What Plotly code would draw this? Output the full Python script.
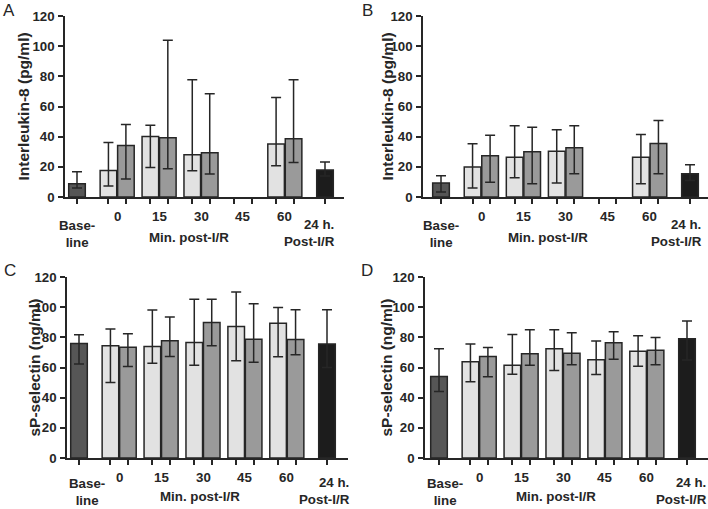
import plotly.graph_objects as go

# ---- data (value, upper whisker, lower whisker) ----
groups = ["0", "15", "30", "45", "60"]

# Panel A: Interleukin-8 (pg/ml)
A_base = [8.8, 16.8, 6.0]
A_light = [17.6, 40.1, 28.0, None, 35.1]
A_light_hi = [36.2, 47.6, 77.7, None, 66.0]
A_light_lo = [7.3, 19.6, 17.4, None, 20.7]
A_dark = [34.2, 39.3, 29.3, None, 38.6]
A_dark_hi = [48.1, 103.9, 68.4, None, 77.7]
A_dark_lo = [11.9, 18.8, 15.2, None, 22.9]
A_24h = [17.9, 23.2, 14.0]

# Panel B: Interleukin-8 (pg/ml)
B_base = [9.3, 14.1, 3.3]
B_light = [19.9, 26.3, 30.4, None, 26.3]
B_light_hi = [35.3, 47.2, 44.6, None, 41.5]
B_light_lo = [6.0, 12.8, 9.3, None, 8.8]
B_dark = [27.4, 30.0, 32.6, None, 35.5]
B_dark_hi = [41.0, 46.3, 47.2, None, 50.7]
B_dark_lo = [9.7, 8.8, 15.4, None, 15.4]
B_24h = [15.4, 21.4, 11.0]

# Panel C: sP-selectin (ng/ml)
C_base = [75.9, 81.7, 62.4]
C_light = [74.4, 73.9, 76.6, 87.2, 89.4]
C_light_hi = [85.5, 98.1, 105.2, 110.0, 99.8]
C_light_lo = [50.0, 62.9, 61.5, 64.4, 67.1]
C_dark = [73.5, 77.7, 89.9, 78.8, 78.6]
C_dark_hi = [82.4, 93.4, 105.2, 102.3, 98.3]
C_dark_lo = [60.7, 67.3, 74.4, 63.5, 68.4]
C_24h = [75.5, 98.3, 60.0]

# Panel D: sP-selectin (ng/ml)
D_base = [54.0, 72.4, 44.1]
D_light = [63.8, 61.5, 72.4, 65.1, 70.8]
D_light_hi = [75.5, 81.9, 85.0, 77.5, 81.0]
D_light_lo = [50.5, 55.6, 58.0, 55.3, 60.9]
D_dark = [67.3, 69.1, 69.5, 76.4, 71.5]
D_dark_hi = [73.3, 85.0, 83.0, 83.7, 79.9]
D_dark_lo = [53.8, 61.5, 61.8, 65.5, 61.8]
D_24h = [79.0, 90.8, 65.0]

y_ticks = [0, 20, 40, 60, 80, 100, 120]

# ---- layout geometry ----
X_BASE = 0.0
GROUP_START = 2.3
GROUP_STEP = 2.4
X_24H = 14.2
BAR_W = 0.95
group_x = [GROUP_START + GROUP_STEP * i for i in range(len(groups))]
light_x = [g - 0.5 for g in group_x]
dark_x = [g + 0.5 for g in group_x]
all_ticks = [X_BASE] + [v for g in group_x for v in (g - 0.5, g + 0.5)] + [X_24H]

W, H = 708, 509
C_BASE = "#565656"
C_LIGHT = "#e2e2e2"
C_DARK = "#9a9a9a"
C_24H = "#1c1c1c"
C_LINE = "#262626"
FONT = "Liberation Sans, Arial, sans-serif"

# pixel geometry per panel: axis x, baseline-bar x, 24h-bar x, right end, y of 0, y of 120
panels = [
    dict(name="A", base=A_base, light=A_light, lhi=A_light_hi, llo=A_light_lo,
         dark=A_dark, dhi=A_dark_hi, dlo=A_dark_lo, h24=A_24h,
         geo=(65, 77, 325, 344, 197, 16), base_dx=0, min_dx=112, h24_dx=260, lab_dy=0,
         ytitle="Interleukin-8 (pg/ml)", tx=23, letter_x=9, letter_y=11),
    dict(name="B", base=B_base, light=B_light, lhi=B_light_hi, llo=B_light_lo,
         dark=B_dark, dhi=B_dark_hi, dlo=B_dark_lo, h24=B_24h,
         geo=(423, 441, 690, 708, 197, 16), base_dx=0, min_dx=107, h24_dx=263, lab_dy=0,
         ytitle="Interleukin-8 (pg/ml)", tx=387, letter_x=367, letter_y=11),
    dict(name="C", base=C_base, light=C_light, lhi=C_light_hi, llo=C_light_lo,
         dark=C_dark, dhi=C_dark_hi, dlo=C_dark_lo, h24=C_24h,
         geo=(67, 79, 327, 348, 458, 277), base_dx=8, min_dx=121, h24_dx=273, lab_dy=3,
         ytitle="sP-selectin (ng/ml)", tx=34, letter_x=10, letter_y=270),
    dict(name="D", base=D_base, light=D_light, lhi=D_light_hi, llo=D_light_lo,
         dark=D_dark, dhi=D_dark_hi, dlo=D_dark_lo, h24=D_24h,
         geo=(425, 439, 687, 708, 458, 277), base_dx=6, min_dx=117, h24_dx=270, lab_dy=3,
         ytitle="sP-selectin (ng/ml)", tx=386, letter_x=367, letter_y=270),
]

fig = go.Figure()
annotations = []
layout_axes = {}


def err(vals, hi, lo):
    up = [None if v is None else h - v for v, h in zip(vals, hi)]
    dn = [None if v is None else v - l for v, l in zip(vals, lo)]
    return dict(type="data", symmetric=False, array=up, arrayminus=dn,
                color=C_LINE, thickness=1.5, width=5)


def b(t):
    return "<b>" + t.replace("<br>", "</b><br><b>") + "</b>"


for i, p in enumerate(panels, start=1):
    xa = "x" if i == 1 else f"x{i}"
    ya = "y" if i == 1 else f"y{i}"
    ax_x, base_px, h24_px, end_px, y0_px, y120_px = p["geo"]
    s = (h24_px - base_px) / (X_24H - X_BASE)
    xrange = [X_BASE - (base_px - ax_x) / s, X_BASE + (end_px - base_px) / s]
    xdom = [ax_x / W, min(end_px / W, 1.0)]
    ydom_v = [1 - y0_px / H, 1 - y120_px / H]

    common = dict(xaxis=xa, yaxis=ya, width=BAR_W, showlegend=False,
                  marker_line=dict(color=C_LINE, width=1.5))
    fig.add_trace(go.Bar(x=[X_BASE], y=[p["base"][0]], marker_color=C_BASE,
                         error_y=err([p["base"][0]], [p["base"][1]], [p["base"][2]]), **common))
    fig.add_trace(go.Bar(x=light_x, y=p["light"], marker_color=C_LIGHT,
                         error_y=err(p["light"], p["lhi"], p["llo"]), **common))
    fig.add_trace(go.Bar(x=dark_x, y=p["dark"], marker_color=C_DARK,
                         error_y=err(p["dark"], p["dhi"], p["dlo"]), **common))
    fig.add_trace(go.Bar(x=[X_24H], y=[p["h24"][0]], marker_color=C_24H,
                         error_y=err([p["h24"][0]], [p["h24"][1]], [p["h24"][2]]), **common))

    key = "" if i == 1 else str(i)
    layout_axes[f"xaxis{key}"] = dict(
        domain=xdom, anchor=ya, range=xrange, showgrid=False,
        zeroline=False, showline=True, linecolor=C_LINE, linewidth=1.5,
        ticks="outside", ticklen=5, tickwidth=1.5, tickcolor=C_LINE,
        tickvals=all_ticks, showticklabels=False, fixedrange=True, automargin=False)
    layout_axes[f"yaxis{key}"] = dict(
        domain=ydom_v, anchor=xa, range=[0, 120], showgrid=False,
        zeroline=False, showline=True, linecolor=C_LINE, linewidth=1.5,
        ticks="outside", ticklen=5, tickwidth=1.5, tickcolor=C_LINE,
        tickvals=y_ticks, ticktext=[b(str(t)) for t in y_ticks], ticklabelstandoff=1,
        automargin=False, fixedrange=True,
        tickfont=dict(family=FONT, size=13.3, color=C_LINE))

    ydom = f"{ya} domain"
    bold = dict(family=FONT, size=13.3, color=C_LINE)
    dy = p["lab_dy"]
    for g, lab in zip(group_x, groups):
        annotations.append(dict(x=g, y=0, xref=xa, yref=ydom, text=b(lab), showarrow=False,
                                xanchor="center", yanchor="middle", yshift=-19.5, font=bold))
    annotations.append(dict(x=X_BASE, y=0, xref=xa, yref=ydom, text=b("Base-<br>line"),
                            showarrow=False, xanchor="center", yanchor="middle",
                            xshift=p["base_dx"], yshift=-37 + dy, font=bold, align="center"))
    annotations.append(dict(x=X_BASE, y=0, xref=xa, yref=ydom,
                            text=b("Min. post-I/R"), showarrow=False, xanchor="center",
                            xshift=p["min_dx"], yanchor="middle", yshift=-41 + dy, font=bold))
    annotations.append(dict(x=X_BASE, y=0, xref=xa, yref=ydom, text=b("24 h.<br>Post-I/R"),
                            showarrow=False, xshift=p["h24_dx"], yshift=-36 + dy, font=bold,
                            align="right", xanchor="right", yanchor="middle"))
    ymid = (ydom_v[0] + ydom_v[1]) / 2
    annotations.append(dict(x=p["tx"] / W, y=ymid, xref="paper", yref="paper",
                            text=b(p["ytitle"]), textangle=-90, showarrow=False,
                            xanchor="center", yanchor="middle",
                            font=dict(family=FONT, size=15.5, color=C_LINE)))
    annotations.append(dict(x=p["letter_x"] / W, y=1 - p["letter_y"] / H, xref="paper",
                            yref="paper", text=p["name"], showarrow=False,
                            xanchor="center", yanchor="middle",
                            font=dict(family=FONT, size=17, color=C_LINE)))

fig.update_layout(
    width=W, height=H, margin=dict(l=0, r=0, t=0, b=0, pad=0), autosize=False,
    paper_bgcolor="white", plot_bgcolor="white", barmode="overlay",
    annotations=annotations, **layout_axes)

fig.write_html("out.html", config={"displayModeBar": False},
               post_script="document.body.style.margin='0';")
